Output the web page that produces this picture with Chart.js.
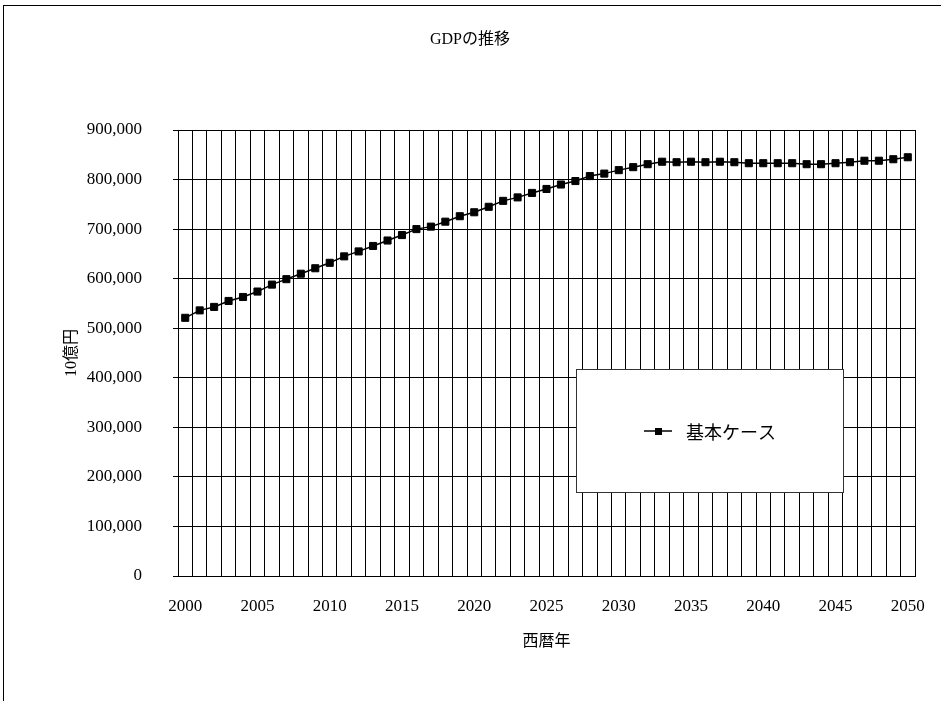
<!DOCTYPE html>
<html lang="ja">
<head>
<meta charset="utf-8">
<title>GDPの推移</title>
<script src="https://cdn.jsdelivr.net/npm/chart.js@4.4.1/dist/chart.umd.min.js"></script>
<style>
    html, body { margin: 0; padding: 0; background: #fff; }
    #wrap { position: relative; width: 941px; height: 701px; overflow: hidden; }
    /* 外枠（左と上だけ見えている） */
    #frame {
        position: absolute; left: 3px; top: 5px; width: 1200px; height: 1200px;
        border-left: 1px solid #000; border-top: 1px solid #000;
    }
    #gdpChart { position: absolute; left: 0; top: 0; }
</style>
</head>
<body>
<div id="wrap">
    <div id="frame"></div>
    <canvas id="gdpChart" width="941" height="701"></canvas>
</div>
<script>
// 西暦（カテゴリ）
const years = [
    "2000", "2001", "2002", "2003", "2004", "2005", "2006", "2007", "2008", "2009",
    "2010", "2011", "2012", "2013", "2014", "2015", "2016", "2017", "2018", "2019",
    "2020", "2021", "2022", "2023", "2024", "2025", "2026", "2027", "2028", "2029",
    "2030", "2031", "2032", "2033", "2034", "2035", "2036", "2037", "2038", "2039",
    "2040", "2041", "2042", "2043", "2044", "2045", "2046", "2047", "2048", "2049",
    "2050"
];

// 基本ケースの GDP（10億円）
const gdpBaseCase = [
    521000, 536000, 543000, 555000, 563000, 574000, 588000, 599000, 610000, 621000,
    632000, 645000, 655000, 666000, 677000, 688000, 700000, 705000, 715000, 726000,
    734000, 745000, 757000, 764000, 773000, 781000, 790000, 797000, 807000, 812000,
    819000, 825000, 831000, 836000, 835000, 836000, 835000, 836000, 835000, 833000,
    833000, 833000, 833000, 831000, 831000, 833000, 835000, 838000, 838000, 841000,
    845000
];

// 横軸に表示する年（5年おき）
const labeledYears = ["2000", "2005", "2010", "2015", "2020", "2025", "2030", "2035", "2040", "2045", "2050"];

// 縦軸の目盛り
const yMin = 0;
const yMax = 900000;
const yStep = 100000;

const SERIF = '"Liberation Serif", "Noto Sans CJK JP", serif';
const GOTHIC = '"Noto Sans CJK JP", sans-serif';

// 凡例はグラフ内の枠に描く（Chart.js 標準の凡例は使わない）
const legendBox = { left: 576, top: 369, width: 267, height: 123 };

const insideLegend = {
    id: "insideLegend",
    afterDraw(chart) {
        const ctx = chart.ctx;
        const ds = chart.data.datasets[0];
        const b = legendBox;
        ctx.save();
        ctx.fillStyle = "#fff";
        ctx.fillRect(b.left, b.top, b.width, b.height);
        ctx.strokeStyle = "#333";
        ctx.lineWidth = 1;
        ctx.strokeRect(b.left + 0.5, b.top + 0.5, b.width, b.height);

        const cy = b.top + 62;
        const lineX1 = b.left + 68;
        const lineX2 = b.left + 96;
        ctx.strokeStyle = ds.borderColor;
        ctx.lineWidth = 1.5;
        ctx.beginPath();
        ctx.moveTo(lineX1, cy);
        ctx.lineTo(lineX2, cy);
        ctx.stroke();
        ctx.fillStyle = ds.pointBackgroundColor;
        ctx.fillRect((lineX1 + lineX2) / 2 - 3, cy - 3, 7, 7);

        ctx.fillStyle = "#000";
        ctx.font = "18px " + GOTHIC;
        ctx.textAlign = "left";
        ctx.textBaseline = "middle";
        ctx.fillText(ds.label, lineX2 + 14, cy + 1);
        ctx.restore();
    }
};

const chart = new Chart(document.getElementById("gdpChart"), {
    type: "line",
    data: {
        labels: years,
        datasets: [{
            label: "基本ケース",
            data: gdpBaseCase,
            borderColor: "#000",
            borderWidth: 1.5,
            pointStyle: "rect",
            pointRadius: 5,
            pointBackgroundColor: "#000",
            pointBorderColor: "#000",
            pointBorderWidth: 1,
            tension: 0
        }]
    },
    options: {
        responsive: false,
        devicePixelRatio: 1,
        animation: false,
        layout: { padding: { left: 25, right: 26, top: 0, bottom: 45 } },
        plugins: {
            legend: { display: false },
            tooltip: { enabled: false },
            title: {
                display: true,
                text: "GDPの推移",
                color: "#000",
                font: { family: SERIF, size: 16, weight: "normal" },
                padding: { top: 30, bottom: 80.8 }
            }
        },
        scales: {
            x: {
                type: "category",
                offset: true,
                afterFit: (scale) => { scale.height = 80; },
                // 目盛り線は透明にして、ラベルとの間隔だけに使う
                grid: { offset: true, color: "#000", lineWidth: 1, drawTicks: true, tickLength: 20, tickColor: "rgba(0,0,0,0)" },
                border: { color: "#000", width: 1 },
                ticks: {
                    autoSkip: false,
                    maxRotation: 0,
                    padding: 0,
                    color: "#000",
                    font: { family: SERIF, size: 17 },
                    callback: function (value) {
                        const year = this.getLabelForValue(value);
                        return labeledYears.includes(year) ? year : "";
                    }
                },
                title: {
                    display: true,
                    text: "西暦年",
                    color: "#000",
                    font: { family: GOTHIC, size: 16 },
                    padding: { top: 0, bottom: 6 }
                }
            },
            y: {
                min: yMin,
                max: yMax,
                afterFit: (scale) => { scale.width = 153; },
                grid: { color: "#000", lineWidth: 1, tickLength: 5 },
                border: { color: "#000", width: 1 },
                ticks: {
                    stepSize: yStep,
                    padding: 31,
                    color: "#000",
                    font: { family: SERIF, size: 17 },
                    callback: (value) => value.toLocaleString("en-US")
                },
                title: {
                    display: true,
                    text: "10億円",
                    color: "#000",
                    font: { family: SERIF, size: 16 },
                    padding: { top: 37, bottom: 0 }
                }
            }
        }
    },
    plugins: [insideLegend]
});
</script>
</body>
</html>
